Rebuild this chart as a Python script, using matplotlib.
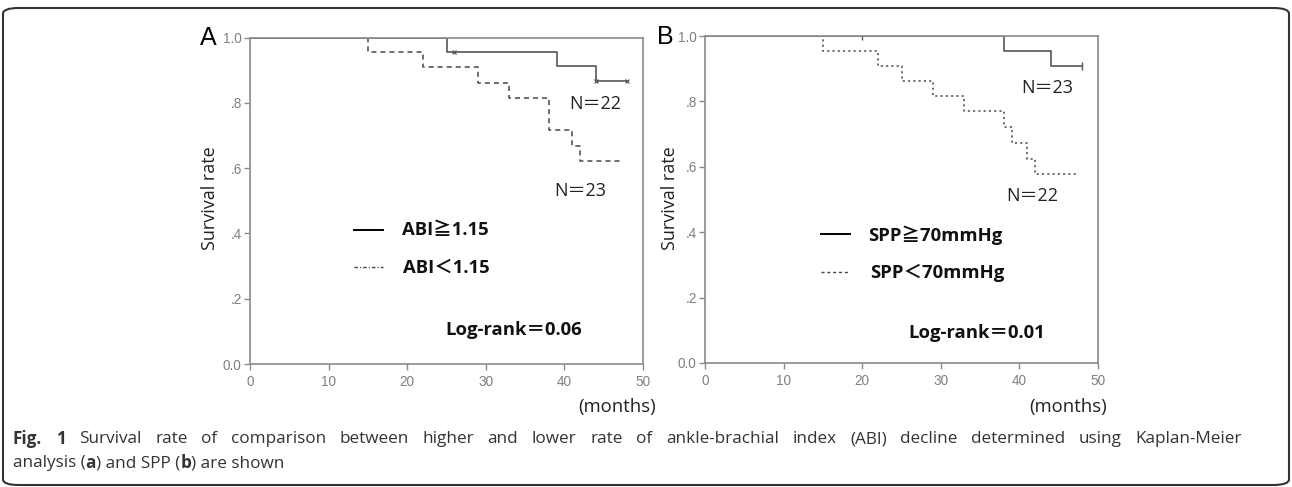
import matplotlib
matplotlib.use("Agg")
import matplotlib.pyplot as plt
from matplotlib.patches import FancyBboxPatch
from matplotlib.lines import Line2D

# ---------------- data ----------------
xticks = [0, 10, 20, 30, 40, 50]
yticks = [0.0, 0.2, 0.4, 0.6, 0.8, 1.0]
ytick_labels = ["0.0", ".2", ".4", ".6", ".8", "1.0"]

# Panel A: ABI >= 1.15 (solid), ABI < 1.15 (dashed)
a_hi_t = [0, 25, 39, 44, 48]
a_hi_s = [1.0, 0.957, 0.912, 0.867, 0.867]
a_hi_cens_t = [26, 44, 48]
a_hi_cens_s = [0.957, 0.867, 0.867]
a_lo_t = [0, 15, 22, 29, 33, 38, 41, 42, 47.3]
a_lo_s = [1.0, 0.955, 0.909, 0.862, 0.814, 0.716, 0.669, 0.622, 0.622]

# Panel B: SPP >= 70 (solid), SPP < 70 (dotted)
b_hi_t = [0, 38, 44, 48]
b_hi_s = [1.0, 0.955, 0.909, 0.909]
b_hi_cens_t = [20, 48]
b_hi_cens_s = [1.0, 0.909]
b_lo_t = [0, 15, 22, 25, 29, 33, 38, 39, 41, 42, 47.5]
b_lo_s = [1.0, 0.955, 0.909, 0.863, 0.817, 0.770, 0.721, 0.672, 0.625, 0.578, 0.578]

caption_line1 = ("Fig. 1 Survival rate of comparison between higher and lower rate of "
                 "ankle-brachial index (ABI) decline determined using Kaplan-Meier")

# ---------------- figure ----------------
W, H = 1292, 487
plt.rcParams['lines.scale_dashes'] = False
fig = plt.figure(figsize=(W / 100, H / 100), dpi=100)
fig.patch.set_facecolor("white")

FAM = ['Open Sans', 'Noto Sans CJK JP', 'DejaVu Sans']
TICKFAM = ['Liberation Sans', 'DejaVu Sans']
CURVE = "#555555"
SPINE = "#8a8a8a"


def P(x, y):
    return x / W, 1 - y / H


def add_axes(l, r, t, b):
    return fig.add_axes([l / W, 1 - b / H, (r - l) / W, (b - t) / H])


def style(ax):
    ax.set_xlim(0, 50)
    ax.set_ylim(0, 1.0)
    ax.set_xticks(xticks)
    ax.set_yticks(yticks)
    ax.set_yticklabels(ytick_labels)
    for s in ax.spines.values():
        s.set_color(SPINE)
        s.set_linewidth(1.2)
    ax.tick_params(axis='both', direction='out', length=4, width=1.0,
                   colors=SPINE, labelcolor="#808080", labelsize=9.8, pad=2)
    ax.tick_params(axis='x', pad=4)
    for lab in ax.get_xticklabels() + ax.get_yticklabels():
        lab.set_family(TICKFAM)
    ax.set_facecolor("white")


# Panel A
axA = add_axes(250, 643, 37.5, 364)
style(axA)
axA.step(a_lo_t, a_lo_s, where='post', color=CURVE, lw=1.2, dashes=(3.6, 2.9))
axA.step(a_hi_t, a_hi_s, where='post', color=CURVE, lw=1.2)
axA.plot(a_hi_cens_t, a_hi_cens_s, ls='none', marker='x', ms=3.5, mew=0.9, color=CURVE)

# Panel B
axB = add_axes(705, 1098, 36, 363)
style(axB)
axB.step(b_lo_t, b_lo_s, where='post', color=CURVE, lw=1.2, dashes=(1.5, 2.3))
axB.step(b_hi_t, b_hi_s, where='post', color=CURVE, lw=1.2)
axB.plot(b_hi_cens_t, b_hi_cens_s, ls='none', marker='|', ms=6, mew=1.0, color=CURVE)

# Panel letters
fig.text(*P(208, 38), "A", fontsize=18, family=['Liberation Sans'], ha='center', va='center')
fig.text(*P(665, 37), "B", fontsize=18, family=['Liberation Sans'], ha='center', va='center')

# y labels
for x in (210, 670):
    fig.text(*P(x, 198), "Survival rate", rotation=90, fontsize=13, family=FAM,
             ha='center', va='center', color="#222222")

# (months)
fig.text(*P(617, 407), "(months)", fontsize=13.3, family=FAM, ha='center', va='center', color="#222222")
fig.text(*P(1068, 407), "(months)", fontsize=13.3, family=FAM, ha='center', va='center', color="#222222")

# N labels
nlab = dict(fontsize=13, family=FAM, ha='center', va='center', color="#222222")
fig.text(*P(595, 104), "N＝22", **nlab)
fig.text(*P(580, 191), "N＝23", **nlab)
fig.text(*P(1047, 88), "N＝23", **nlab)
fig.text(*P(1032, 196), "N＝22", **nlab)


def leg_line(x0, x1, y, color='black', lw=1.4, **kw):
    (fx0, fy), (fx1, _) = P(x0, y), P(x1, y)
    fig.add_artist(Line2D([fx0, fx1], [fy, fy], transform=fig.transFigure,
                          color=color, lw=lw, **kw))


bold = dict(fontsize=13.3, family=FAM, fontweight='bold', ha='left', va='center', color="#111111")
leg_line(354, 383, 230)
fig.text(*P(402, 230), "ABI≧1.15", **bold)
leg_line(354, 383, 267, color='#444444', lw=1.0, dashes=(2.5, 1.5, 0.8, 1.5))
fig.text(*P(403, 268), "ABI＜1.15", **bold)

leg_line(821, 850, 234)
fig.text(*P(868, 235), "SPP≧70mmHg", **bold)
leg_line(821, 850, 272, color='#444444', lw=1.0, dashes=(2.2, 2.0))
fig.text(*P(870, 273), "SPP＜70mmHg", **bold)

fig.text(*P(445, 330), "Log-rank＝0.06", **bold)
fig.text(*P(908, 333), "Log-rank＝0.01", **bold)

# Caption
fig.canvas.draw()
renderer = fig.canvas.get_renderer()
CAP = dict(fontsize=12.3, family=FAM, va='center', color="#333333", ha='left')


def measure(txt, weight):
    t = fig.text(0, 0, txt, fontweight=weight, **CAP)
    w = t.get_window_extent(renderer=renderer).width
    t.remove()
    return w


# justified line 1
words = caption_line1.split(" ")
weights = ['bold', 'bold'] + ['normal'] * (len(words) - 2)
widths = [measure(w, wt) for w, wt in zip(words, weights)]
x_start, x_end, y1 = 13, 1242, 439
gap = (x_end - x_start - sum(widths)) / (len(words) - 1)
x = x_start
for w, wt, wd in zip(words, weights, widths):
    fig.text(*P(x, y1), w, fontweight=wt, **CAP)
    x += wd + gap


def seq_text(x, y, parts):
    for txt, wt in parts:
        fig.text(*P(x, y), txt, fontweight=wt, **CAP)
        x += measure(txt, wt)


seq_text(13, 463, [("analysis (", 'normal'), ("a", 'bold'), (") and SPP (", 'normal'),
                   ("b", 'bold'), (") are shown", 'normal')])

# Rounded border
border = FancyBboxPatch((3 / W, 2 / H), (W - 6) / W, (H - 10) / H,
                        boxstyle="round,pad=0,rounding_size=0.012",
                        transform=fig.transFigure, fill=False, ec="#333333", lw=1.5)
fig.add_artist(border)

fig.savefig("out.png", dpi=100, facecolor="white")
